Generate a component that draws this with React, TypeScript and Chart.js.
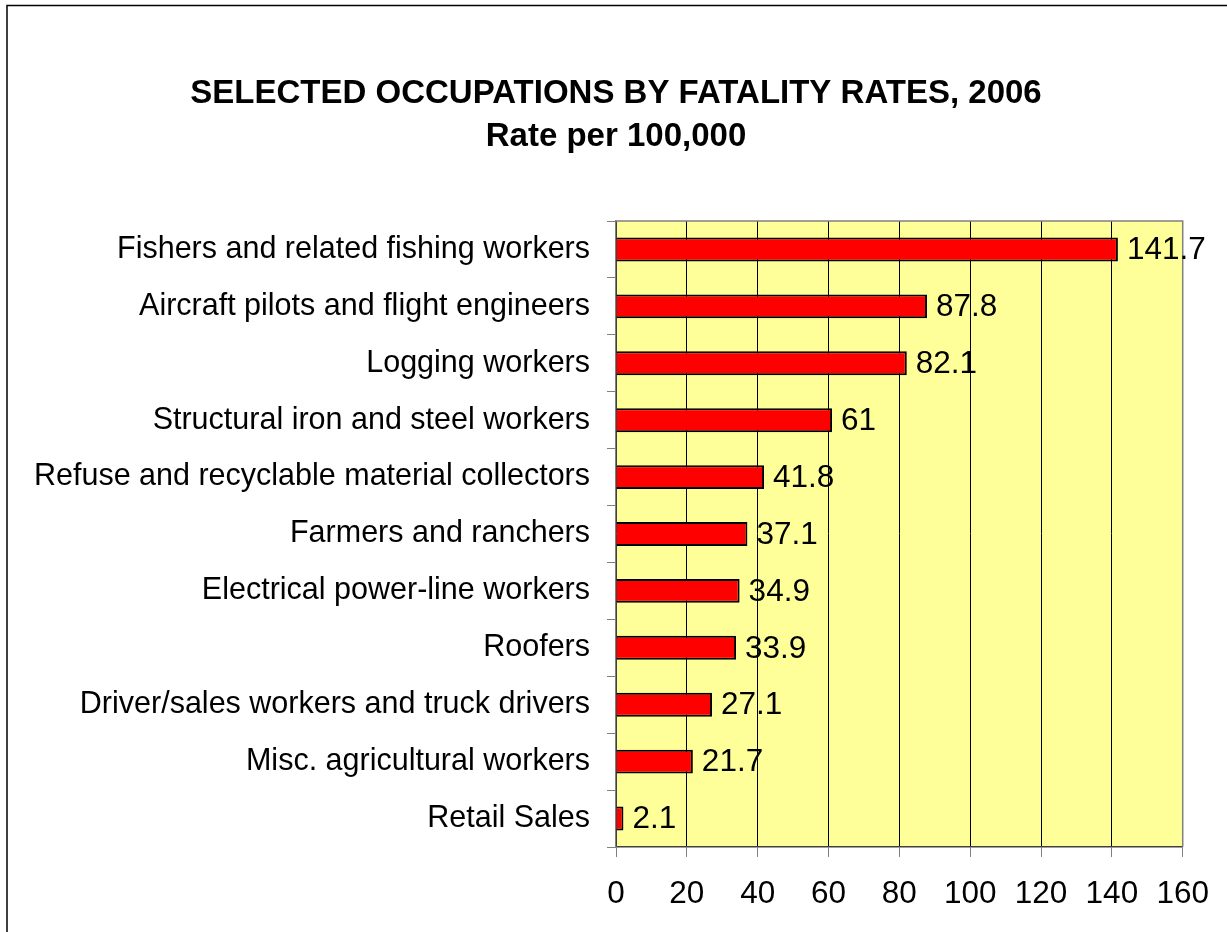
import React, { useEffect, useRef } from "react";
import { Chart, registerables } from "chart.js";

Chart.register(...registerables);

const categories = [
  "Fishers and related fishing workers",
  "Aircraft pilots and flight engineers",
  "Logging workers",
  "Structural iron and steel workers",
  "Refuse and recyclable material collectors",
  "Farmers and ranchers",
  "Electrical power-line workers",
  "Roofers",
  "Driver/sales workers and truck drivers",
  "Misc. agricultural workers",
  "Retail Sales",
];
const rates = [141.7, 87.8, 82.1, 61, 41.8, 37.1, 34.9, 33.9, 27.1, 21.7, 2.1];
const titleLines = ["SELECTED OCCUPATIONS BY FATALITY RATES, 2006", "Rate per 100,000"];
const xMin = 0;
const xMax = 160;
const xStep = 20;

const FONT = "'Liberation Sans', Arial, sans-serif";

export default function App() {
  const ref = useRef<HTMLCanvasElement | null>(null);
  useEffect(() => {
    const canvas = ref.current!;
    const decor = {
      id: "decor",
      beforeDraw(chart: any) {
        const { ctx, chartArea: a } = chart;
        ctx.save();
        ctx.fillStyle = "#ffffff";
        ctx.fillRect(0, 0, chart.width, chart.height);
        ctx.fillStyle = "#FFFF99";
        ctx.fillRect(a.left, a.top, a.right - a.left, a.bottom - a.top);
        // outer frame
        ctx.strokeStyle = "#000000";
        ctx.lineWidth = 1.5;
        ctx.strokeRect(7, 5.5, 1400, 1100);
        // title
        ctx.fillStyle = "#000000";
        ctx.textAlign = "center";
        ctx.textBaseline = "alphabetic";
        ctx.font = `bold 33px ${FONT}`;
        ctx.fillText(titleLines[0], 616, 103);
        ctx.fillText(titleLines[1], 616, 146);
        ctx.restore();
      },
      afterDraw(chart: any) {
        const { ctx, chartArea: a } = chart;
        ctx.save();
        ctx.strokeStyle = "#808080";
        ctx.lineWidth = 1.5;
        ctx.beginPath();
        ctx.moveTo(a.left, a.top);
        ctx.lineTo(a.right, a.top);
        ctx.lineTo(a.right, a.bottom);
        ctx.stroke();
        // value labels
        const meta = chart.getDatasetMeta(0);
        ctx.fillStyle = "#000000";
        ctx.font = `31.5px ${FONT}`;
        ctx.textAlign = "left";
        ctx.textBaseline = "middle";
        meta.data.forEach((bar: any, i: number) => {
          ctx.fillText(String(rates[i]), bar.x + 9, bar.y + 1);
        });
        ctx.restore();
      },
    };
    const chart = new Chart(canvas, {
      type: "bar",
      data: {
        labels: categories,
        datasets: [
          {
            data: rates,
            backgroundColor: "#FF0000",
            borderColor: "#000000",
            borderWidth: 2,
            barPercentage: 0.42,
            categoryPercentage: 1,
          },
        ],
      },
      options: {
        indexAxis: "y",
        responsive: false,
        animation: false,
        devicePixelRatio: 1,
        layout: { padding: { left: 0, top: 221, right: 44, bottom: 0 } },
        plugins: { legend: { display: false }, title: { display: false }, tooltip: { enabled: false } },
        scales: {
          x: {
            min: xMin,
            max: xMax,
            ticks: { stepSize: xStep, color: "#000000", font: { family: FONT, size: 31.5 }, padding: 18, maxRotation: 0 },
            grid: {
              color: (c: any) => (c.tick && c.tick.value === xMax ? "#808080" : "#000000"),
              lineWidth: 1,
              tickLength: 10,
              tickColor: "#808080",
            },
            border: { color: "#404040", width: 1.5 },
            afterFit: (s: any) => {
              s.height = 85;
            },
          },
          y: {
            ticks: { color: "#000000", font: { family: FONT, size: 30.5 }, padding: 17, autoSkip: false },
            grid: { drawOnChartArea: false, tickLength: 9, tickColor: "#808080", offset: true },
            border: { color: "#808080", width: 1.5 },
            afterFit: (s: any) => {
              s.width = 616;
            },
          },
        },
      },
      plugins: [decor],
    });
    return () => chart.destroy();
  }, []);
  return (
    <canvas
      ref={ref}
      width={1227}
      height={932}
      style={{ position: "fixed", left: 0, top: 0, width: 1227, height: 932 }}
    />
  );
}
